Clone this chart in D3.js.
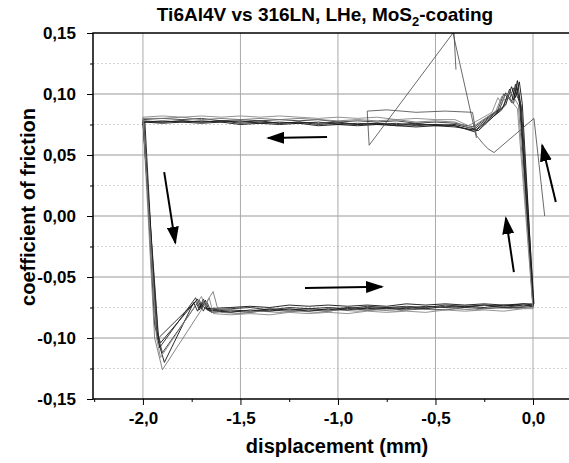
<!DOCTYPE html>
<html>
<head>
<meta charset="utf-8">
<script src="https://cdn.jsdelivr.net/npm/d3@7"></script>
<style>
  body { margin: 0; background: #fff; }
  text { font-family: "Liberation Sans", Arial, sans-serif; }
</style>
</head>
<body>
<div id="app"></div>
<script>
// friction loops, [displacement mm, coefficient of friction]
const cycle1 = [[0.00,-0.073],[-0.065,0.093],[-0.08,0.111],[-0.10,0.095],[-0.12,0.104],[-0.15,0.090],[-0.29,0.071],[-0.40,0.075],[-0.50,0.074],[-0.60,0.076],[-0.70,0.075],[-0.80,0.076],[-0.90,0.075],[-1.00,0.077],[-1.10,0.076],[-1.20,0.077],[-1.30,0.076],[-1.40,0.078],[-1.50,0.077],[-1.60,0.078],[-1.70,0.077],[-1.80,0.078],[-1.90,0.077],[-2.00,0.078],[-1.93,-0.094],[-1.91,-0.104],[-1.72,-0.068],[-1.70,-0.076],[-1.68,-0.069],[-1.66,-0.078],[-1.55,-0.077],[-1.45,-0.078],[-1.35,-0.076],[-1.25,-0.077],[-1.15,-0.076],[-1.05,-0.077],[-0.95,-0.075],[-0.85,-0.076],[-0.75,-0.075],[-0.65,-0.076],[-0.55,-0.074],[-0.45,-0.075],[-0.35,-0.074],[-0.25,-0.075],[-0.15,-0.073],[-0.05,-0.074],[0.00,-0.073]]
const cycle2 = [[0.005,-0.072],[-0.06,0.090],[-0.09,0.108],[-0.11,0.093],[-0.14,0.101],[-0.17,0.088],[-0.31,0.070],[-0.40,0.074],[-0.50,0.075],[-0.60,0.074],[-0.70,0.076],[-0.80,0.075],[-0.90,0.076],[-1.00,0.075],[-1.10,0.077],[-1.20,0.076],[-1.30,0.077],[-1.40,0.076],[-1.50,0.078],[-1.60,0.077],[-1.70,0.078],[-1.80,0.077],[-1.90,0.078],[-1.995,0.077],[-1.94,-0.090],[-1.92,-0.100],[-1.73,-0.070],[-1.71,-0.077],[-1.69,-0.070],[-1.67,-0.077],[-1.55,-0.076],[-1.45,-0.075],[-1.35,-0.077],[-1.25,-0.075],[-1.15,-0.076],[-1.05,-0.075],[-0.95,-0.076],[-0.85,-0.074],[-0.75,-0.075],[-0.65,-0.074],[-0.55,-0.075],[-0.45,-0.073],[-0.35,-0.074],[-0.25,-0.073],[-0.15,-0.074],[-0.05,-0.072],[0.005,-0.072]]
const cycle3 = [[0.00,-0.074],[-0.07,0.094],[-0.10,0.105],[-0.12,0.096],[-0.15,0.100],[-0.18,0.087],[-0.30,0.073],[-0.40,0.076],[-0.50,0.077],[-0.60,0.076],[-0.70,0.078],[-0.80,0.077],[-0.90,0.078],[-1.00,0.077],[-1.10,0.079],[-1.20,0.078],[-1.30,0.079],[-1.40,0.078],[-1.50,0.079],[-1.60,0.078],[-1.70,0.080],[-1.80,0.079],[-1.90,0.080],[-2.00,0.079],[-1.92,-0.100],[-1.90,-0.112],[-1.71,-0.069],[-1.69,-0.078],[-1.67,-0.071],[-1.65,-0.079],[-1.55,-0.078],[-1.45,-0.079],[-1.35,-0.077],[-1.25,-0.078],[-1.15,-0.077],[-1.05,-0.078],[-0.95,-0.076],[-0.85,-0.077],[-0.75,-0.076],[-0.65,-0.077],[-0.55,-0.076],[-0.45,-0.077],[-0.35,-0.075],[-0.25,-0.076],[-0.15,-0.075],[-0.05,-0.075],[0.00,-0.074]]
const cycle4 = [[0.003,-0.073],[-0.055,0.092],[-0.07,0.110],[-0.09,0.097],[-0.11,0.106],[-0.14,0.091],[-0.28,0.070],[-0.40,0.073],[-0.50,0.074],[-0.60,0.073],[-0.70,0.074],[-0.80,0.075],[-0.90,0.074],[-1.00,0.075],[-1.10,0.074],[-1.20,0.076],[-1.30,0.075],[-1.40,0.076],[-1.50,0.075],[-1.60,0.077],[-1.70,0.076],[-1.80,0.077],[-1.90,0.076],[-1.99,0.077],[-1.93,-0.098],[-1.89,-0.120],[-1.74,-0.071],[-1.72,-0.078],[-1.70,-0.072],[-1.68,-0.076],[-1.55,-0.075],[-1.45,-0.074],[-1.35,-0.075],[-1.25,-0.073],[-1.15,-0.074],[-1.05,-0.073],[-0.95,-0.074],[-0.85,-0.073],[-0.75,-0.074],[-0.65,-0.072],[-0.55,-0.073],[-0.45,-0.072],[-0.35,-0.073],[-0.25,-0.072],[-0.15,-0.073],[-0.05,-0.072],[0.003,-0.073]]
const cycle5 = [[0.00,-0.075],[-0.075,0.091],[-0.12,0.103],[-0.14,0.094],[-0.16,0.098],[-0.19,0.086],[-0.32,0.072],[-0.40,0.077],[-0.50,0.078],[-0.60,0.077],[-0.70,0.079],[-0.80,0.078],[-0.90,0.079],[-1.00,0.078],[-1.10,0.079],[-1.20,0.080],[-1.30,0.079],[-1.40,0.080],[-1.50,0.079],[-1.60,0.080],[-1.70,0.079],[-1.80,0.081],[-1.90,0.080],[-2.00,0.080],[-1.94,-0.100],[-1.90,-0.126],[-1.66,-0.067],[-1.64,-0.062],[-1.62,-0.074],[-1.60,-0.079],[-1.50,-0.080],[-1.40,-0.078],[-1.30,-0.079],[-1.20,-0.078],[-1.10,-0.079],[-1.00,-0.077],[-0.90,-0.078],[-0.80,-0.077],[-0.70,-0.078],[-0.60,-0.076],[-0.50,-0.077],[-0.40,-0.076],[-0.30,-0.077],[-0.20,-0.075],[-0.10,-0.076],[0.00,-0.075]]
const cycle6 = [[0.002,-0.074],[-0.065,0.089],[-0.085,0.106],[-0.10,0.092],[-0.13,0.099],[-0.16,0.087],[-0.30,0.069],[-0.40,0.074],[-0.50,0.075],[-0.60,0.075],[-0.70,0.074],[-0.80,0.076],[-0.90,0.075],[-1.00,0.076],[-1.10,0.075],[-1.20,0.077],[-1.30,0.076],[-1.40,0.077],[-1.50,0.076],[-1.60,0.078],[-1.70,0.077],[-1.80,0.078],[-1.90,0.077],[-2.00,0.077],[-1.925,-0.092],[-1.915,-0.108],[-1.73,-0.067],[-1.71,-0.075],[-1.69,-0.068],[-1.67,-0.077],[-1.55,-0.079],[-1.45,-0.077],[-1.35,-0.078],[-1.25,-0.076],[-1.15,-0.078],[-1.05,-0.076],[-0.95,-0.077],[-0.85,-0.075],[-0.75,-0.076],[-0.65,-0.075],[-0.55,-0.076],[-0.45,-0.074],[-0.35,-0.075],[-0.25,-0.073],[-0.15,-0.075],[-0.05,-0.073],[0.002,-0.074]]
const cycle7 = [[0.00,-0.076],[-0.08,0.088],[-0.14,0.100],[-0.16,0.092],[-0.18,0.097],[-0.21,0.085],[-0.33,0.074],[-0.40,0.079],[-0.50,0.079],[-0.60,0.080],[-0.70,0.079],[-0.80,0.081],[-0.90,0.080],[-1.00,0.081],[-1.10,0.080],[-1.20,0.081],[-1.30,0.082],[-1.40,0.081],[-1.50,0.082],[-1.60,0.081],[-1.70,0.082],[-1.80,0.081],[-1.90,0.082],[-2.00,0.081],[-1.93,-0.100],[-1.91,-0.116],[-1.70,-0.066],[-1.68,-0.074],[-1.66,-0.067],[-1.64,-0.080],[-1.55,-0.081],[-1.45,-0.080],[-1.35,-0.081],[-1.25,-0.079],[-1.15,-0.080],[-1.05,-0.079],[-0.95,-0.080],[-0.85,-0.078],[-0.75,-0.079],[-0.65,-0.078],[-0.55,-0.079],[-0.45,-0.077],[-0.35,-0.078],[-0.25,-0.077],[-0.15,-0.078],[-0.05,-0.076],[0.00,-0.076]]
// first run-in, the odd thin trace on the right
const runIn = [[0.06,0.0],[0.005,0.08],[-0.20,0.052],[-0.23,0.055],[-0.26,0.060],[-0.29,0.066],[-0.31,0.085],[-0.45,0.086],[-0.60,0.085],[-0.75,0.087],[-0.85,0.086],[-0.84,0.058],[-0.41,0.15],[-0.29,0.064]]
const runInSpike = [[-0.405,0.15],[-0.395,0.12]]

const cycleColors = ['#111', '#222', '#333', '#111', '#777', '#222', '#888']

// axis ticks
const xTicks = [-2.0, -1.5, -1.0, -0.5, 0.0]
const xMinor = [-2.25, -1.75, -1.25, -0.75, -0.25, 0.25]
const yTicks = [-0.15, -0.10, -0.05, 0.00, 0.05, 0.10, 0.15]
const yMinor = [-0.125, -0.075, -0.025, 0.025, 0.075, 0.125]

// direction arrows, tail -> tip
const arrowFrom = [[-1.056,0.0647],[-1.891,0.036],[-1.169,-0.059],[-0.098,-0.046],[0.117,0.0115]]
const arrowTo = [[-1.358,0.0639],[-1.834,-0.022],[-0.774,-0.058],[-0.139,-0.0017],[0.047,0.058]]

;(function (d3) {
  'use strict'

  const w = 569
  const h = 463
  const left = 93
  const top = 33
  const bottom = 399

  const svg = d3.select('#app')
    .append('svg')
    .attr('width', w)
    .attr('height', h)

  const x = d3.scaleLinear().domain([-2.256, 0.2]).range([left, 572])
  const y = d3.scaleLinear().domain([-0.15, 0.15]).range([bottom, top])

  const comma = f => d => d3.format(f)(d).replace('.', ',').replace('\u2212', '-')

  svg.append('clipPath').attr('id', 'plot')
    .append('rect')
    .attr('x', left).attr('y', top)
    .attr('width', w - left).attr('height', bottom - top)

  // grid
  const grid = svg.append('g')
  grid.selectAll('.gmin').data(yMinor).enter().append('line')
    .attr('x1', left).attr('x2', w)
    .attr('y1', d => y(d)).attr('y2', d => y(d))
    .attr('stroke', '#d4d4d4').attr('stroke-dasharray', '2,2')
  grid.selectAll('.gy').data(yTicks.slice(1, -1)).enter().append('line')
    .attr('x1', left).attr('x2', w)
    .attr('y1', d => y(d)).attr('y2', d => y(d))
    .attr('stroke', '#999')
  grid.selectAll('.gx').data(xTicks).enter().append('line')
    .attr('x1', d => x(d)).attr('x2', d => x(d))
    .attr('y1', top).attr('y2', bottom)
    .attr('stroke', '#aaa')

  // data
  const line = d3.line().x(d => x(d[0])).y(d => y(d[1]))
  const plot = svg.append('g').attr('clip-path', 'url(#plot)')
  const cycles = [cycle1, cycle2, cycle3, cycle4, cycle5, cycle6, cycle7]
  plot.selectAll('.cycle').data(cycles).enter().append('path')
    .attr('d', line)
    .attr('fill', 'none')
    .attr('stroke', (d, i) => cycleColors[i])
    .attr('stroke-width', 0.9)
    .attr('stroke-linejoin', 'round')
  plot.selectAll('.runin').data([runIn, runInSpike]).enter().append('path')
    .attr('d', line)
    .attr('fill', 'none')
    .attr('stroke', '#444')
    .attr('stroke-width', 0.8)

  // arrows
  svg.append('defs').append('marker')
    .attr('id', 'head')
    .attr('markerUnits', 'userSpaceOnUse')
    .attr('markerWidth', 18).attr('markerHeight', 12)
    .attr('refX', 16).attr('refY', 6)
    .attr('orient', 'auto')
    .append('path')
    .attr('d', 'M0,0 L18,6 L0,12 Z')
    .attr('fill', '#000')
  svg.selectAll('.arrow').data(arrowFrom).enter().append('line')
    .attr('x1', d => x(d[0])).attr('y1', d => y(d[1]))
    .attr('x2', (d, i) => x(arrowTo[i][0])).attr('y2', (d, i) => y(arrowTo[i][1]))
    .attr('stroke', '#000')
    .attr('stroke-width', 2)
    .attr('marker-end', 'url(#head)')

  // axes
  const styleAxis = g => {
    g.selectAll('.domain').remove()
    g.selectAll('line').attr('stroke', '#000')
    g.selectAll('text')
      .style('font-size', '17px')
      .style('font-weight', 'bold')
      .attr('fill', '#000')
  }
  svg.append('g')
    .attr('transform', 'translate(' + left + ',0)')
    .call(d3.axisLeft(y).tickValues(yTicks).tickSize(6).tickPadding(11).tickFormat(comma('.2f')))
    .call(styleAxis)
  svg.append('g')
    .attr('transform', 'translate(' + left + ',0)')
    .call(d3.axisLeft(y).tickValues(yMinor).tickSize(3).tickFormat(''))
    .call(styleAxis)
  svg.append('g')
    .attr('transform', 'translate(0,' + bottom + ')')
    .call(d3.axisBottom(x).tickValues(xTicks).tickSize(6).tickPadding(7).tickFormat(comma('.1f')))
    .call(styleAxis)
  svg.append('g')
    .attr('transform', 'translate(0,' + bottom + ')')
    .call(d3.axisBottom(x).tickValues(xMinor.filter(d => x(d) > left && x(d) < w)).tickSize(3).tickFormat(''))
    .call(styleAxis)

  // frame lines
  svg.append('path')
    .attr('d', 'M' + w + ',' + top + 'H' + left + 'V' + bottom + 'H' + w)
    .attr('fill', 'none')
    .attr('stroke', '#000')
    .attr('stroke-width', 1.5)

  // titles
  const title = svg.append('text')
    .attr('x', 325).attr('y', 21)
    .attr('text-anchor', 'middle')
    .style('font-size', '19px')
    .style('font-weight', 'bold')
  title.append('tspan').text('Ti6Al4V vs 316LN, LHe, MoS')
  title.append('tspan').attr('dy', 5).style('font-size', '13px').text('2')
  title.append('tspan').attr('dy', -5).text('-coating')

  svg.append('text')
    .attr('x', 337).attr('y', 453)
    .attr('text-anchor', 'middle')
    .style('font-size', '20px')
    .style('font-weight', 'bold')
    .text('displacement (mm)')

  svg.append('text')
    .attr('transform', 'translate(35,207) rotate(-90)')
    .attr('text-anchor', 'middle')
    .style('font-size', '20px')
    .style('font-weight', 'bold')
    .text('coefficient of friction')
}(d3))
</script>
</body>
</html>
